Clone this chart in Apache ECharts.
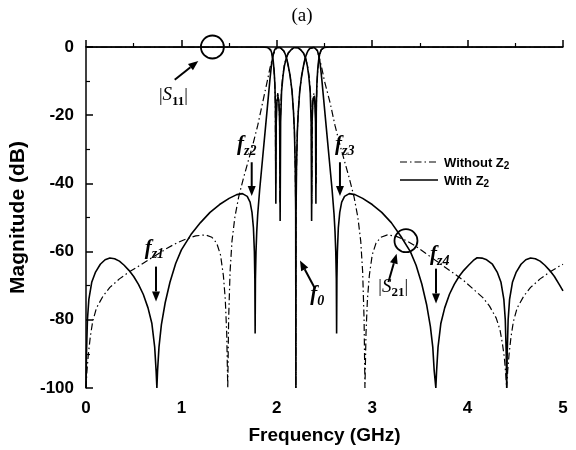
<!DOCTYPE html>
<html><head><meta charset="utf-8">
<script src="https://cdn.jsdelivr.net/npm/echarts@6/dist/echarts.min.js"></script>
<style>html,body{margin:0;padding:0;background:#fff}#c{width:576px;height:450px}</style>
</head><body><div id="c"></div><script>
// ---------- data (frequency GHz, magnitude dB) ----------
const xTicks = [0, 1, 2, 3, 4, 5];
const yTicks = [-100, -80, -60, -40, -20, 0];
const legendNames = ['Without Z2', 'With Z2'];

const s21With = [[0,-100],[0.005,-90],[0.015,-80],[0.03,-74],[0.06,-69],[0.1,-66],[0.15,-63.7],[0.2,-62.4],[0.25,-61.9],[0.3,-62.1],[0.35,-62.8],[0.4,-64],[0.45,-65.5],[0.5,-67.3],[0.55,-69.6],[0.6,-72.5],[0.65,-76.5],[0.69,-81],[0.72,-88],[0.735,-95],[0.743,-100],[0.75,-95],[0.765,-88],[0.79,-81.5],[0.83,-75],[0.88,-69],[0.94,-63.5],[1.0,-59.5],[1.1,-55],[1.2,-51.5],[1.3,-48.5],[1.4,-46.2],[1.5,-44.4],[1.58,-43.3],[1.64,-43],[1.69,-43.8],[1.72,-45.5],[1.74,-48.5],[1.755,-53],[1.765,-60],[1.77,-68],[1.773,-84],[1.776,-68],[1.782,-60],[1.79,-54],[1.80,-49],[1.82,-42],[1.85,-33],[1.88,-24],[1.91,-15],[1.93,-9],[1.945,-5],[1.96,-2.5],[1.975,-1],[1.99,-0.3],[2.01,-0.1],[2.035,-0.1],[2.055,-0.4],[2.075,-1.2],[2.09,-2.2],[2.105,-3.5],[2.12,-5.5],[2.14,-8.5],[2.16,-13],[2.175,-19],[2.185,-25],[2.193,-35],[2.198,-48],[2.2,-100],[2.202,-48],[2.207,-35],[2.215,-25],[2.225,-19],[2.24,-13],[2.26,-8.5],[2.28,-5.5],[2.295,-3.5],[2.31,-2.2],[2.325,-1.2],[2.345,-0.4],[2.365,-0.1],[2.39,-0.1],[2.41,-0.3],[2.425,-1],[2.44,-2.5],[2.455,-5],[2.47,-9],[2.49,-15],[2.52,-24],[2.55,-33],[2.58,-42],[2.60,-49],[2.61,-54],[2.618,-60],[2.624,-68],[2.627,-84],[2.63,-68],[2.635,-60],[2.645,-53],[2.66,-48.5],[2.68,-45.5],[2.71,-43.8],[2.76,-43],[2.82,-43.3],[2.9,-44.4],[3.0,-46.2],[3.1,-48.5],[3.2,-51.5],[3.3,-55.5],[3.4,-60],[3.46,-64],[3.52,-69.5],[3.57,-75.5],[3.61,-82],[3.635,-88],[3.65,-95],[3.667,-100],[3.675,-95],[3.69,-88],[3.72,-81],[3.76,-76.5],[3.81,-72.5],[3.86,-69.6],[3.91,-67.3],[3.96,-65.5],[4.01,-64],[4.06,-62.6],[4.1,-61.8],[4.15,-61.9],[4.2,-62.4],[4.26,-63.7],[4.31,-66],[4.35,-69],[4.38,-74],[4.395,-80],[4.405,-90],[4.41,-100],[4.415,-90],[4.425,-80],[4.44,-74],[4.47,-69],[4.51,-66],[4.56,-63.7],[4.61,-62.4],[4.66,-61.9],[4.71,-62.1],[4.76,-62.8],[4.81,-64],[4.86,-65.5],[4.91,-67.3],[4.96,-69.6],[5.0,-71.5]];

const s21Without = [[0,-100],[0.01,-95],[0.025,-90],[0.045,-85],[0.07,-80.5],[0.11,-76.5],[0.18,-73],[0.25,-70.5],[0.35,-68],[0.45,-66],[0.55,-64.3],[0.65,-62.5],[0.75,-60.8],[0.85,-59],[0.95,-57.5],[1.05,-56.3],[1.15,-55.4],[1.25,-55.1],[1.32,-55.8],[1.37,-57.5],[1.41,-61],[1.44,-67],[1.46,-74],[1.475,-84],[1.486,-100],[1.495,-80],[1.51,-66],[1.53,-57],[1.56,-50],[1.6,-44],[1.65,-38.5],[1.7,-33.5],[1.75,-28.5],[1.8,-23],[1.85,-16.5],[1.9,-10],[1.93,-6],[1.96,-2.5],[1.985,-0.8],[2.01,-0.2],[2.035,-0.2],[2.055,-0.5],[2.075,-1.3],[2.09,-2.3],[2.105,-3.6],[2.12,-5.6],[2.14,-8.6],[2.16,-13],[2.175,-19],[2.185,-25],[2.193,-35],[2.198,-48],[2.2,-100],[2.202,-48],[2.207,-35],[2.215,-25],[2.225,-19],[2.24,-13],[2.26,-8.6],[2.28,-5.6],[2.295,-3.6],[2.31,-2.3],[2.325,-1.3],[2.345,-0.5],[2.365,-0.2],[2.39,-0.2],[2.415,-0.8],[2.44,-2.5],[2.47,-6],[2.5,-10],[2.56,-16.5],[2.61,-23],[2.66,-28.5],[2.71,-33.5],[2.76,-38.5],[2.81,-44],[2.85,-50],[2.88,-57],[2.90,-66],[2.915,-80],[2.924,-100],[2.935,-84],[2.95,-74],[2.97,-67],[3.0,-61],[3.04,-57.5],[3.09,-55.8],[3.16,-55.1],[3.26,-55.6],[3.36,-56.8],[3.46,-58.5],[3.56,-60.5],[3.66,-62.5],[3.76,-64.5],[3.86,-66.5],[3.96,-68.5],[4.06,-71],[4.16,-73.5],[4.23,-76],[4.30,-79.5],[4.34,-83],[4.365,-87],[4.385,-91],[4.40,-96],[4.41,-100],[4.42,-95],[4.435,-90],[4.455,-85],[4.48,-80.5],[4.52,-76.5],[4.59,-73],[4.66,-70.5],[4.76,-68],[4.86,-66],[4.96,-64.3],[5.0,-63.7]];

const s11With = [[0,0],[1.85,0],[1.9,-0.1],[1.92,-0.3],[1.935,-0.8],[1.95,-2],[1.962,-4],[1.972,-7],[1.98,-11],[1.986,-18],[1.99,-46],[1.994,-22],[2.002,-16],[2.012,-14.5],[2.022,-16],[2.03,-22],[2.035,-51],[2.04,-22],[2.05,-13],[2.065,-8.5],[2.08,-5.5],[2.10,-3.2],[2.12,-1.8],[2.15,-0.8],[2.18,-0.2],[2.2,0],[2.22,-0.2],[2.25,-0.8],[2.28,-1.8],[2.30,-3.2],[2.32,-5.5],[2.335,-8.5],[2.35,-13],[2.36,-22],[2.365,-51],[2.37,-22],[2.378,-16],[2.388,-14.5],[2.398,-16],[2.406,-22],[2.41,-46],[2.414,-18],[2.42,-11],[2.428,-7],[2.438,-4],[2.45,-2],[2.465,-0.8],[2.48,-0.3],[2.5,-0.1],[2.55,0],[5,0]];

const s11Without = [[0,0],[1.86,0],[1.9,-0.15],[1.92,-0.4],[1.935,-1],[1.948,-2.2],[1.96,-4],[1.97,-6.5],[1.978,-10],[1.984,-16],[1.988,-40],[1.992,-21],[2.0,-15],[2.01,-13.5],[2.02,-15],[2.028,-20],[2.033,-46],[2.038,-21],[2.048,-13],[2.062,-8.5],[2.078,-5.5],[2.098,-3.2],[2.12,-1.8],[2.15,-0.8],[2.18,-0.2],[2.2,0],[2.22,-0.2],[2.25,-0.8],[2.28,-1.8],[2.302,-3.2],[2.322,-5.5],[2.338,-8.5],[2.352,-13],[2.362,-21],[2.367,-46],[2.372,-20],[2.38,-15],[2.39,-13.5],[2.40,-15],[2.408,-21],[2.412,-40],[2.416,-16],[2.422,-10],[2.43,-6.5],[2.44,-4],[2.452,-2.2],[2.465,-1],[2.48,-0.4],[2.5,-0.15],[2.54,0],[5,0]];

// ---------- chart ----------
const sans = "Arial,'Liberation Sans',Helvetica,sans-serif";
const serif = "'Times New Roman','Liberation Serif',serif";
const dashDot = [7, 3, 1.5, 3];
const chart = echarts.init(document.getElementById('c'), null, {renderer: 'canvas'});

function lineSeries(name, data, dashed) {
  return {
    type: 'line', name: name, data: data, showSymbol: false, symbol: 'none',
    animation: false, silent: true,
    lineStyle: {color: '#000', width: dashed ? 1.2 : 1.6, type: dashed ? dashDot : 'solid'},
    itemStyle: {color: '#000'}, z: dashed ? 2 : 3
  };
}

chart.setOption({
  animation: false,
  backgroundColor: '#fff',
  grid: {left: 86, right: 13, top: 47, bottom: 61},
  xAxis: {
    type: 'value', min: xTicks[0], max: xTicks[xTicks.length - 1], interval: 1,
    name: 'Frequency (GHz)', nameLocation: 'middle', nameGap: 38,
    nameTextStyle: {fontFamily: sans, fontWeight: 'bold', fontSize: 19, color: '#000'},
    axisLine: {lineStyle: {color: '#000', width: 1.5}},
    axisTick: {inside: true, length: 7, lineStyle: {color: '#000', width: 1.5}},
    minorTick: {show: true, splitNumber: 2, length: 4, lineStyle: {color: '#000', width: 1.2}},
    axisLabel: {fontFamily: sans, fontWeight: 'bold', fontSize: 17, color: '#000', margin: 12},
    splitLine: {show: false}
  },
  yAxis: {
    type: 'value', min: yTicks[0], max: yTicks[yTicks.length - 1], interval: 20,
    name: 'Magnitude (dB)', nameLocation: 'middle', nameGap: 57, nameRotate: 90,
    nameTextStyle: {fontFamily: sans, fontWeight: 'bold', fontSize: 21, color: '#000'},
    axisLine: {lineStyle: {color: '#000', width: 1.5}},
    axisTick: {inside: true, length: 7, lineStyle: {color: '#000', width: 1.5}},
    minorTick: {show: true, splitNumber: 2, length: 4, lineStyle: {color: '#000', width: 1.2}},
    axisLabel: {fontFamily: sans, fontWeight: 'bold', fontSize: 17, color: '#000', margin: 12},
    splitLine: {show: false}
  },
  series: [
    lineSeries(legendNames[0], s21Without, true),
    lineSeries(legendNames[0], s11Without, true),
    lineSeries(legendNames[1], s21With, false),
    lineSeries(legendNames[1], s11With, false)
  ]
});

// ---------- annotations (positioned in data units) ----------
const px = p => chart.convertToPixel({xAxisIndex: 0, yAxisIndex: 0}, p);
const mctx = document.createElement('canvas').getContext('2d');
function measure(t, font) { mctx.font = font; return mctx.measureText(t).width; }
const fItal = "italic bold 21px " + serif;
const fSub = "italic bold 14px " + serif;
const fBar = "18px " + serif;
const fS = "italic 19px " + serif;
const fNum = "bold 13px " + serif;

function textRun(x, y, parts, center) {
  let total = 0;
  parts.forEach(p => total += measure(p.t, p.font));
  let cx = center ? x - total / 2 : x;
  const out = [];
  parts.forEach(p => {
    out.push({type: 'text', x: cx, y: y + (p.dy || 0), silent: true,
      style: {text: p.t, font: p.font, fill: '#000', align: 'left', verticalAlign: 'bottom'}});
    cx += measure(p.t, p.font);
  });
  return out;
}
function arrowPx(p0, p1) {
  const dx = p1[0] - p0[0], dy = p1[1] - p0[1], L = Math.hypot(dx, dy), ux = dx / L, uy = dy / L;
  const hl = 10, hw = 4;
  const bx = p1[0] - ux * hl, by = p1[1] - uy * hl;
  return [
    {type: 'line', silent: true, shape: {x1: p0[0], y1: p0[1], x2: bx, y2: by}, style: {stroke: '#000', lineWidth: 2}},
    {type: 'polygon', silent: true, shape: {points: [[p1[0], p1[1]], [bx - uy * hw, by + ux * hw], [bx + uy * hw, by - ux * hw]]}, style: {fill: '#000'}}
  ];
}
const arrow = (a, b) => arrowPx(px(a), px(b));
function circle(c, r) {
  const p = px(c);
  return {type: 'circle', silent: true, shape: {cx: p[0], cy: p[1], r: r}, style: {fill: 'none', stroke: '#000', lineWidth: 1.8}};
}
function fLabel(pos, sub) {
  const p = px(pos);
  return textRun(p[0], p[1], [{t: 'f', font: fItal}, {t: sub, font: fSub, dy: 3}], false);
}
function sLabel(pos, sub) {
  const p = px(pos);
  return textRun(p[0], p[1], [{t: '|', font: fBar}, {t: 'S', font: fS}, {t: sub, font: fNum, dy: 3}, {t: '|', font: fBar}], true);
}

let g = [];
g.push({type: 'text', x: 302, y: 16, silent: true, style: {text: '(a)', font: '19px ' + serif, fill: '#000', align: 'center', verticalAlign: 'middle'}});
g.push(circle([1.325, 0], 11.5));
g = g.concat(arrow([0.93, -9.6], [1.177, -4.1]));
g = g.concat(sLabel([0.917, -17], '11'));
g = g.concat(fLabel([0.615, -62.1], 'z1'));
g = g.concat(arrow([0.734, -64.4], [0.734, -74.6]));
g = g.concat(fLabel([1.583, -31.8], 'z2'));
g = g.concat(arrow([1.737, -33.8], [1.737, -43.7]));
g = g.concat(fLabel([2.61, -31.8], 'z3'));
g = g.concat(arrow([2.662, -33.8], [2.662, -43.7]));
g = g.concat(fLabel([2.35, -75.8], '0'));
g = g.concat(arrow([2.40, -70.8], [2.243, -62.6]));
g.push(circle([3.354, -56.8], 11.5));
g = g.concat(sLabel([3.22, -73.2], '21'));
g = g.concat(arrow([3.17, -68.9], [3.256, -60.6]));
g = g.concat(fLabel([3.606, -64], 'z4'));
g = g.concat(arrow([3.669, -65], [3.669, -75.2]));

// legend (drawn as graphic so the dash-dot sample matches the series)
const legFont = "bold 13px " + sans;
const legSub = "bold 10px " + sans;
[[legendNames[0], dashDot, 162], [legendNames[1], null, 180]].forEach(function (it) {
  const y = it[2];
  g.push({type: 'line', silent: true, shape: {x1: 400, y1: y, x2: 438, y2: y},
    style: {stroke: '#000', lineWidth: it[1] ? 1.2 : 1.6, lineDash: it[1] || null}});
  const base = it[0].replace('Z2', 'Z');
  g = g.concat(textRun(444, y + 7.5, [{t: base, font: legFont}, {t: '2', font: legSub, dy: 2}], false));
});
chart.setOption({graphic: {elements: g}});
</script></body></html>
